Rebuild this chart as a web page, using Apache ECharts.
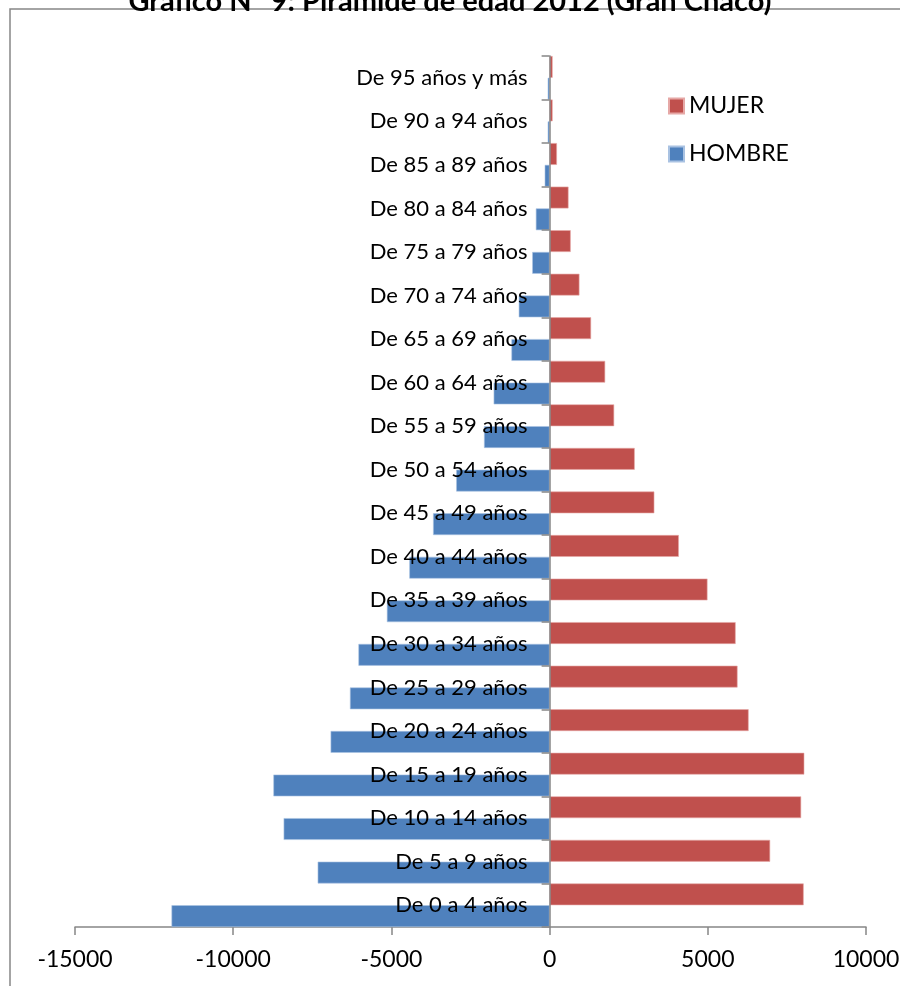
<!DOCTYPE html>
<html><head><meta charset="utf-8">
<script src="https://cdn.jsdelivr.net/npm/echarts@6/dist/echarts.min.js"></script>
<style>html,body{margin:0;padding:0;background:#fff}#c{width:900px;height:986px}</style>
</head><body><div id="c"></div>
<script>
const titleText = "Gráfico N° 9: Pirámide de edad 2012 (Gran Chaco)";
const categories = ["De 0 a 4 años","De 5 a 9 años","De 10 a 14 años","De 15 a 19 años","De 20 a 24 años","De 25 a 29 años","De 30 a 34 años","De 35 a 39 años","De 40 a 44 años","De 45 a 49 años","De 50 a 54 años","De 55 a 59 años","De 60 a 64 años","De 65 a 69 años","De 70 a 74 años","De 75 a 79 años","De 80 a 84 años","De 85 a 89 años","De 90 a 94 años","De 95 años y más"];
const mujer = [8030, 6970, 7950, 8050, 6290, 5940, 5880, 4990, 4085, 3310, 2690, 2040, 1756, 1311, 943, 667, 598, 232, 95, 95];
const hombre = [-11950, -7330, -8406, -8730, -6921, -6310, -6042, -5143, -4434, -3683, -2952, -2073, -1768, -1206, -975, -549, -435, -155, -60, -60];
const xTicks = {min: -15000, max: 10000, interval: 5000};

const FONT = 'Lato';
const GRID_LEFT = 75, GRID_RIGHT = 34;
const PLOT_W = 900 - GRID_LEFT - GRID_RIGHT;
const zeroOffset = PLOT_W * (0 - xTicks.min) / (xTicks.max - xTicks.min);

const chart = echarts.init(document.getElementById('c'), null, {renderer: 'canvas'});
chart.setOption({
  animation: false,
  backgroundColor: '#fff',
  textStyle: {fontFamily: FONT},
  title: {
    text: titleText, left: 'center', top: -18,
    textStyle: {fontFamily: FONT, fontWeight: 'bold', fontSize: 29, color: '#000'}
  },
  graphic: [{
    type: 'rect', shape: {x: 10, y: 9, width: 1000, height: 1100},
    style: {fill: '#fff', stroke: '#868686', lineWidth: 1.5}, silent: true, z: -1
  }],
  legend: {
    orient: 'vertical', left: 663, top: 89,
    itemWidth: 15, itemHeight: 15, itemGap: 24,
    icon: 'rect',
    data: ['MUJER', 'HOMBRE'],
    textStyle: {fontFamily: FONT, fontSize: 23, color: '#000', lineHeight: 24}
  },
  grid: {left: GRID_LEFT, right: GRID_RIGHT, top: 56, bottom: 59, containLabel: false, outerBoundsMode: 'none'},
  xAxis: {
    type: 'value', min: xTicks.min, max: xTicks.max, interval: xTicks.interval,
    splitLine: {show: false},
    axisLine: {show: true, onZero: false, lineStyle: {color: '#868686', width: 1.5}},
    axisTick: {show: true, length: 8, lineStyle: {color: '#868686', width: 1.5}},
    axisLabel: {margin: 21, fontFamily: FONT, fontSize: 23, color: '#000', formatter: v => String(v)}
  },
  yAxis: {
    type: 'category', data: categories, z: 10,
    offset: -zeroOffset,
    axisLine: {show: true, onZero: false, lineStyle: {color: '#868686', width: 1.5}},
    axisTick: {show: true, length: 8, lineStyle: {color: '#868686', width: 1.5}},
    axisLabel: {margin: 22, fontFamily: FONT, fontSize: 22, color: '#000'},
    splitLine: {show: false}
  },
  series: [
    {name: 'MUJER', type: 'bar', data: mujer, barGap: '0%', barCategoryGap: '0%',
     itemStyle: {color: '#C0504D', borderColor: '#E6A8A6', borderWidth: 0.6}},
    {name: 'HOMBRE', type: 'bar', data: hombre, barGap: '0%', barCategoryGap: '0%',
     itemStyle: {color: '#4F81BD', borderColor: '#A9C2E2', borderWidth: 0.6}}
  ]
});
</script></body></html>
